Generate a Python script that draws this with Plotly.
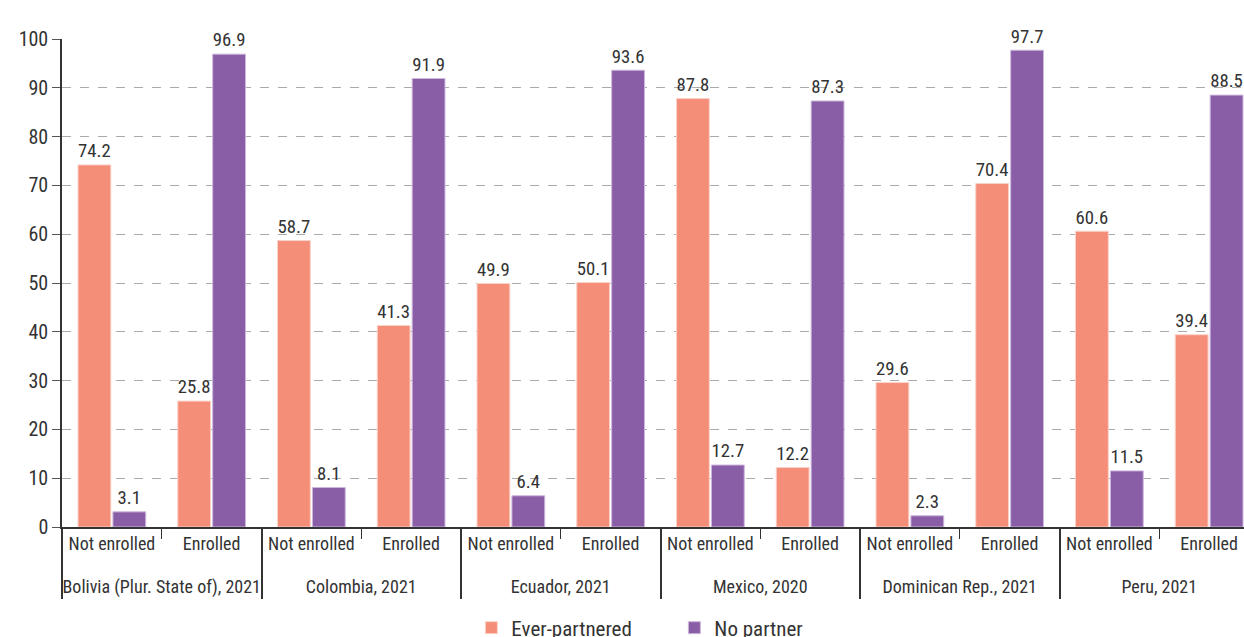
import plotly.graph_objects as go

countries = ["Bolivia (Plur. State of), 2021", "Colombia, 2021", "Ecuador, 2021",
             "Mexico, 2020", "Dominican Rep., 2021", "Peru, 2021"]
statuses = ["Not enrolled", "Enrolled"]
ever_partnered = [74.2, 25.8, 58.7, 41.3, 49.9, 50.1, 87.8, 12.2, 29.6, 70.4, 60.6, 39.4]
no_partner = [3.1, 96.9, 8.1, 91.9, 6.4, 93.6, 12.7, 87.3, 2.3, 97.7, 11.5, 88.5]
y_ticks = [0, 10, 20, 30, 40, 50, 60, 70, 80, 90, 100]

# a tiny invisible second line under the status labels gives the country row more room
PAD = "<br><span style='font-size:1px'>\u00a0</span>"
outer = [c for c in countries for _ in statuses]
inner = [s + PAD for _ in countries for s in statuses]

FONT = "Roboto Condensed, Liberation Sans Narrow, DejaVu Sans Condensed, Roboto, sans-serif"
TXT = "#333333"

fig = go.Figure()
fig.add_trace(go.Bar(x=[outer, inner], y=ever_partnered, name="Ever-partnered",
                     marker=dict(color="#F48E78", line=dict(color="#FBD3C9", width=1)),
                     text=[f"{v:.1f}" for v in ever_partnered], textposition="outside",
                     textfont=dict(size=20, color=TXT), cliponaxis=False))
fig.add_trace(go.Bar(x=[outer, inner], y=no_partner, name="No partner",
                     marker=dict(color="#8A5EA7", line=dict(color="#CDB8DC", width=1)),
                     text=[f"{v:.1f}" for v in no_partner], textposition="outside",
                     textfont=dict(size=20, color=TXT), cliponaxis=False))

fig.update_layout(
    width=1260, height=650,
    margin=dict(l=62, r=1, t=39, b=117),
    paper_bgcolor="white", plot_bgcolor="white",
    font=dict(family=FONT, size=18, color=TXT),
    barmode="group", bargap=0.3, bargroupgap=0.06,
    showlegend=True,
    legend=dict(orientation="h", x=0.342, xanchor="left", y=-0.165, yanchor="top",
                font=dict(size=21, color=TXT), entrywidth=158, entrywidthmode="pixels",
                traceorder="normal"),
    uniformtext=dict(minsize=10, mode="show"),
)
fig.update_xaxes(type="multicategory", showline=True, linecolor="#333333", linewidth=1.5,
                 ticks="outside", tickson="boundaries", ticklen=10, tickcolor="#333333",
                 showdividers=True, dividercolor="#333333", dividerwidth=1.5,
                 tickangle=0, tickfont=dict(size=18, color=TXT), showgrid=False,
                 automargin=False)
fig.update_yaxes(range=[0, 100], tickvals=y_ticks, showline=True, linecolor="#333333",
                 linewidth=1.5, ticks="outside", ticklen=8, tickcolor="#555555",
                 showgrid=True, gridcolor="#AAAAAA", griddash="dash", gridwidth=1.3,
                 zeroline=False, tickfont=dict(size=20, color=TXT), automargin=False)

fig.write_html("out.html", config={"displayModeBar": False},
               post_script="document.body.style.margin='0px';document.body.style.overflow='hidden';")
